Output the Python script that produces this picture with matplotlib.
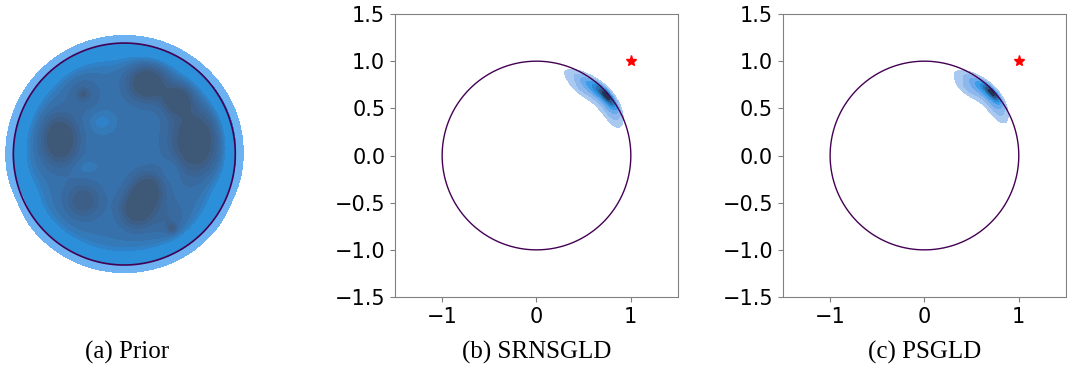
import numpy as np
import matplotlib.pyplot as plt

# ---- prior density: smooth disk plus bumps
prior_plateau = 0.74
prior_edge = 0.97
prior_soft = 0.06
prior_bx = [0.21, 0.48, 0.64, -0.58, 0.21, 0.11, -0.37, 0.43, 0.40, -0.37, -0.37,
            -0.20, 0.44, -0.35, -0.85, 0.84, -0.10]
prior_by = [0.64, 0.49, 0.12, 0.13, -0.33, -0.50, -0.42, -0.67, -0.60, 0.54, 0.54,
            0.29, -0.14, -0.12, -0.35, -0.35, 0.85]
prior_bsx = [0.12, 0.09, 0.15, 0.11, 0.10, 0.10, 0.11, 0.03, 0.12, 0.10, 0.025,
             0.08, 0.06, 0.08, 0.10, 0.10, 0.15]
prior_bsy = [0.11, 0.09, 0.20, 0.15, 0.11, 0.11, 0.11, 0.03, 0.12, 0.10, 0.025,
             0.07, 0.09, 0.05, 0.12, 0.12, 0.08]
prior_bw = [0.40, 0.36, 0.40, 0.40, 0.33, 0.33, 0.22, 0.16, 0.10, 0.12, 0.12,
            -0.10, -0.08, -0.06, -0.06, -0.05, -0.04]
prior_levels = [0.12, 0.28, 0.62, 0.67, 0.72, 0.78, 0.84, 0.90, 0.97, 3.0]
prior_colors = ['#6cb1f1', '#2b8fd9', '#2f82c8', '#3479b8', '#3671ab',
                '#386a9f', '#3a6493', '#3c5e87', '#3e5878']

# ---- posterior blobs, polar components: angle (deg), radius, angle sd, radius sd, weight
srn_theta = [40, 46, 45, 55, 30]
srn_r = [0.98, 0.95, 0.91, 0.86, 0.92]
srn_st = [6, 10, 13, 6, 5]
srn_sr = [0.025, 0.035, 0.05, 0.04, 0.04]
srn_w = [1.0, 0.5, 0.2, 0.1, 0.08]

psg_theta = [43, 47, 46, 56, 33]
psg_r = [0.98, 0.95, 0.91, 0.85, 0.92]
psg_st = [5, 9, 12, 6, 5]
psg_sr = [0.022, 0.035, 0.05, 0.04, 0.04]
psg_w = [1.0, 0.45, 0.2, 0.12, 0.08]

post_levels = [0.03, 0.1, 0.2, 0.32, 0.46, 0.6, 0.75, 0.9, 1.01]
post_colors = ['#aac9f1', '#8cb8ee', '#6aa9ec', '#3b9de8', '#2a8ad6',
               '#2a6fae', '#2a5585', '#1f3452']

target = (1.0, 1.0)
captions = ['(a) Prior', '(b) SRNSGLD', '(c) PSGLD']
yticks = [-1.5, -1.0, -0.5, 0.0, 0.5, 1.0, 1.5]
xticks = [-1, 0, 1]

g = np.linspace(-1.6, 1.6, 600)
X, Y = np.meshgrid(g, g)
R = np.sqrt(X**2 + Y**2)
T = np.degrees(np.arctan2(Y, X))


def prior_density():
    d = prior_plateau / (1 + np.exp((R - prior_edge) / prior_soft))
    for bx, by, sx, sy, w in zip(prior_bx, prior_by, prior_bsx, prior_bsy, prior_bw):
        d = d + w * np.exp(-0.5 * (((X - bx) / sx)**2 + ((Y - by) / sy)**2))
    return d


def blob(th, rr, st, sr, ww):
    d = np.zeros_like(X)
    for a, r0, s1, s2, w in zip(th, rr, st, sr, ww):
        d = d + w * np.exp(-0.5 * (((T - a) / s1)**2 + ((R - r0) / s2)**2))
    return d / d.max()


fig = plt.figure(figsize=(10.67, 3.68), dpi=100)

# panel (a)
ax0 = fig.add_axes([0.0, 0.2437, 0.233, 0.6755])
ax0.contourf(X, Y, prior_density(), levels=prior_levels, colors=prior_colors)
ax0.contour(X, Y, R**2, levels=[1.0], colors='#440154', linewidths=1.2)
ax0.set_xlim(-1.12, 1.12)
ax0.set_ylim(-1.12, 1.12)
ax0.set_aspect('equal')
ax0.axis('off')

# panels (b), (c)
post = [(srn_theta, srn_r, srn_st, srn_sr, srn_w),
        (psg_theta, psg_r, psg_st, psg_sr, psg_w)]
lefts = [0.3702, 0.7338]
for left, comp in zip(lefts, post):
    ax = fig.add_axes([left, 0.1929, 0.2652, 0.769])
    ax.contourf(X, Y, blob(*comp), levels=post_levels, colors=post_colors)
    ax.contour(X, Y, R**2, levels=[1.0], colors='#440154', linewidths=1.0)
    ax.plot(target[0], target[1], marker='*', color='red', markersize=8, linestyle='none')
    ax.set_xlim(-1.5, 1.5)
    ax.set_ylim(-1.5, 1.5)
    ax.set_xticks(xticks)
    ax.set_yticks(yticks)
    ax.tick_params(labelsize=15, color='#808080')
    for s in ax.spines.values():
        s.set_color('#808080')

for x, c in zip([0.119, 0.503, 0.867], captions):
    fig.text(x, 0.041, c, ha='center', va='center', fontsize=18,
             family='Liberation Serif')

fig.savefig('out.png', dpi=100)
